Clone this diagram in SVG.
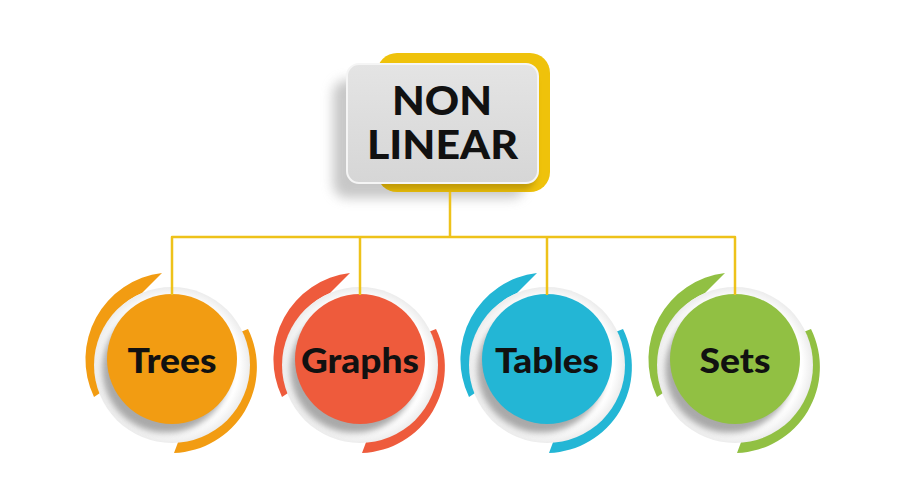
<svg xmlns="http://www.w3.org/2000/svg" xmlns:xlink="http://www.w3.org/1999/xlink" width="900" height="500" viewBox="0 0 900 500">
  <style>
    .title { font-family: Lato, "Liberation Sans", sans-serif; font-weight: 900; font-size: 40px; fill: #111; text-anchor: middle; }
    .label { font-family: Lato, "Liberation Sans", sans-serif; font-weight: 900; font-size: 35px; fill: #111; text-anchor: middle; }
    .wire { fill: none; stroke: #eec21a; stroke-width: 2.5; stroke-linejoin: round; }
  </style>
  <defs>
    <filter id="soft3" x="-30%" y="-30%" width="160%" height="160%">
      <feGaussianBlur stdDeviation="3"/>
    </filter>
    <filter id="soft6" x="-30%" y="-30%" width="160%" height="160%">
      <feGaussianBlur stdDeviation="6"/>
    </filter>
    <radialGradient id="ringFill" cx="0.5" cy="0.5" r="0.5">
      <stop offset="0.86" stop-color="#ffffff"/>
      <stop offset="1" stop-color="#ececec"/>
    </radialGradient>
    <linearGradient id="boxFill" x1="0" y1="0" x2="0" y2="1">
      <stop offset="0" stop-color="#e4e4e4"/>
      <stop offset="1" stop-color="#d6d6d6"/>
    </linearGradient>
    <clipPath id="yellowClip">
      <rect x="377" y="53" width="173" height="139" rx="20"/>
    </clipPath>
    <!-- two tapered colour bands around each circle; fill comes from the <use> -->
    <g id="crescents">
      <path d="M -78 38 A 87 87 0 0 1 -10 -86 L -30 -66 A 70 70 0 0 0 -66 30 Z"/>
      <path d="M 76 -30 A 86 86 0 0 1 2 94 L 8 78 A 70 70 0 0 0 66 -26 Z"/>
    </g>
    <!-- white ring with the disc's soft shadow -->
    <g id="ring">
      <circle cx="0" cy="6" r="78" fill="url(#ringFill)"/>
      <circle cx="-6" cy="10" r="64" fill="#858585" opacity="0.7" filter="url(#soft3)"/>
    </g>
  </defs>

  <rect width="900" height="500" fill="#ffffff"/>

  <!-- root box -->
  <g id="non-linear">
    <rect x="333" y="80" width="192" height="118" rx="14" fill="#9a9a9a" opacity="0.55" filter="url(#soft6)"/>
    <rect x="377" y="53" width="173" height="139" rx="20" fill="#efc20b"/>
    <g clip-path="url(#yellowClip)">
      <rect x="350" y="72" width="185" height="118" rx="12" fill="#6b5300" opacity="0.35" filter="url(#soft3)"/>
    </g>
    <rect x="347" y="64" width="191" height="119" rx="12" fill="url(#boxFill)" stroke="#f5f5f5" stroke-width="2"/>
    <text class="title" x="442" y="115" textLength="100" lengthAdjust="spacingAndGlyphs">NON</text>
    <text class="title" x="442.5" y="159" textLength="151" lengthAdjust="spacingAndGlyphs">LINEAR</text>
  </g>

  <!-- child nodes -->
  <g id="trees" transform="translate(172,359)">
    <use href="#crescents" fill="#f29c12"/>
    <use href="#ring"/>
    <circle r="65" fill="#f29c12"/>
    <text class="label" x="0" y="14" textLength="89" lengthAdjust="spacingAndGlyphs">Trees</text>
  </g>
  <g id="graphs" transform="translate(360,359)">
    <use href="#crescents" fill="#ee5b3c"/>
    <use href="#ring"/>
    <circle r="65" fill="#ee5b3c"/>
    <text class="label" x="0" y="14" textLength="118" lengthAdjust="spacingAndGlyphs">Graphs</text>
  </g>
  <g id="tables" transform="translate(547,359)">
    <use href="#crescents" fill="#23b6d5"/>
    <use href="#ring"/>
    <circle r="65" fill="#23b6d5"/>
    <text class="label" x="0" y="14" textLength="104" lengthAdjust="spacingAndGlyphs">Tables</text>
  </g>
  <g id="sets" transform="translate(735,359)">
    <use href="#crescents" fill="#91c043"/>
    <use href="#ring"/>
    <circle r="65" fill="#91c043"/>
    <text class="label" x="0" y="14" textLength="71" lengthAdjust="spacingAndGlyphs">Sets</text>
  </g>

  <!-- connectors -->
  <g id="connectors" class="wire">
    <path d="M 450 192 V 237"/>
    <path d="M 172 295 V 237 H 735 V 295"/>
    <path d="M 360 237 V 295"/>
    <path d="M 547 237 V 295"/>
  </g>
</svg>
